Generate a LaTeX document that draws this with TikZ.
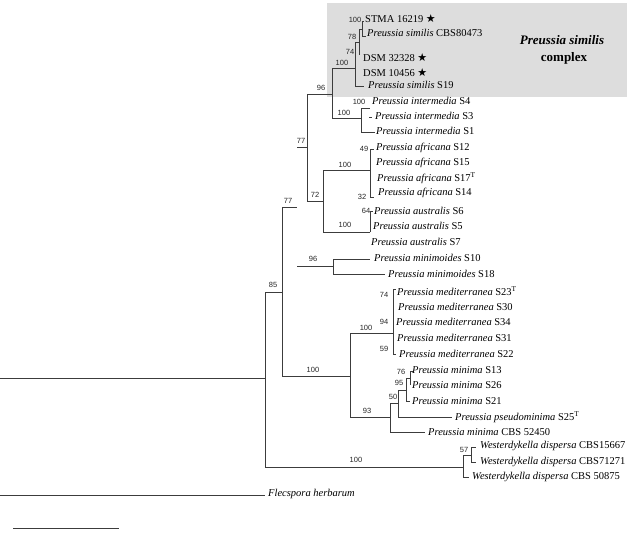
\documentclass[tikz,border=0pt]{standalone}
\usepackage{fontspec}
\setmainfont{Liberation Serif}
\newfontfamily\supf{Liberation Sans}
\newfontfamily\starf{DejaVu Sans}
\definecolor{boxgrey}{RGB}{221,221,221}
\definecolor{linec}{RGB}{60,60,60}
\newcommand{\stsym}{{\starf\fontsize{11}{11}\selectfont ★}}
\begin{document}
\begin{tikzpicture}[x=1pt,y=-1pt,
  br/.style={draw=linec,line width=0.75pt},
  taxon/.style={anchor=west,inner sep=0pt,font=\fontsize{10.5}{12}\selectfont},
  sup/.style={inner sep=0pt,font=\supf\fontsize{7.5}{8}\selectfont,text=black!85},
  ttl/.style={inner sep=0pt,font=\fontsize{13}{15}\selectfont\bfseries}]
\useasboundingbox (0,0) rectangle (636,532);
\fill[boxgrey] (327,3) rectangle (627,97);
\node[ttl] (ttl1) at (562,40) {\textit{Preussia similis}};
\node[ttl] (ttl2) at (564,58) {complex};

% coordinates of internal nodes
\coordinate (rootL) at (0,378);
\coordinate (ing) at (265,378);
\coordinate (outL) at (0,495);
\coordinate (outT) at (265,495);
\coordinate (n85) at (282,292);
\coordinate (n77bL) at (283,207);
\coordinate (n77b) at (297,207);
\coordinate (n77aL) at (297,147);
\coordinate (n77a) at (307,147);
\coordinate (n96) at (332,94);
\coordinate (nsimL) at (332,68);
\coordinate (nsim) at (355,68);
\coordinate (n78) at (359,42);
\coordinate (n78b) at (359,55);
\coordinate (n100s) at (362,29);
\coordinate (tSTMA) at (364,21);
\coordinate (tCBS) at (366,36);
\coordinate (tS19) at (364,86);
\coordinate (nint) at (361,118);
\coordinate (tS4) at (370,108);
\coordinate (tS1) at (375,132);
\coordinate (d3a) at (369,117);
\coordinate (d3b) at (372,117);
\coordinate (n72) at (323,201);
\coordinate (naf) at (370,170);
\coordinate (tS12) at (374,149);
\coordinate (tS14) at (374,197);
\coordinate (naus) at (370,232);
\coordinate (tS6) at (373,211);
\coordinate (nminL) at (297,266);
\coordinate (nmin) at (333,266);
\coordinate (tS10) at (370,259);
\coordinate (tS18) at (385,274);
\coordinate (n100b) at (350,376);
\coordinate (nmed) at (393,333);
\coordinate (tS23) at (396,289);
\coordinate (tS22) at (396,354);
\coordinate (n93) at (390,417);
\coordinate (n50) at (398,403);
\coordinate (tCBS52) at (425,432);
\coordinate (n95) at (406,390);
\coordinate (tS25) at (452,417);
\coordinate (n76) at (410,378);
\coordinate (tS21) at (410,401);
\coordinate (tS13) at (413,371);
\coordinate (n76b) at (410,385);
\coordinate (wes) at (463,467);
\coordinate (n57) at (471,455);
\coordinate (tW3) at (469,477);
\coordinate (tW1) at (476,447);
\coordinate (tW2) at (476,462);
\coordinate (sbA) at (13,528);
\coordinate (sbB) at (119,528);

% branches
\draw[br] (rootL) -- (ing);
\draw[br] (outL) -- (outT);
\draw[br] (ing) |- (n85);
\draw[br] (ing) |- (wes);
\draw[br] (n77bL) -- (n77b);
\draw[br] (n85) |- (n100b);
\draw[br] (n85) |- (n77bL);
\draw[br] (n77aL) -- (n77a);
\draw[br] (nminL) -- (nmin);
\draw[br] (n77a) |- (n96);
\draw[br] (n77a) |- (n72);
\draw[br] (n96) |- (nsimL);
\draw[br] (nsimL) -- (nsim);
\draw[br] (n96) |- (nint);
\draw[br] (nsim) |- (n78);
\draw[br] (nsim) |- (tS19);
\draw[br] (n78) |- (n100s);
\draw[br] (n78) -- (n78b);
\draw[br] (n100s) |- (tSTMA);
\draw[br] (n100s) |- (tCBS);
\draw[br] (nint) |- (tS4);
\draw[br] (nint) |- (tS1);
\draw[br] (d3a) -- (d3b);
\draw[br] (n72) |- (naf);
\draw[br] (n72) |- (naus);
\draw[br] (naf) |- (tS12);
\draw[br] (naf) |- (tS14);
\draw[br] (naus) |- (tS6);
\draw[br] (nmin) |- (tS10);
\draw[br] (nmin) |- (tS18);
\draw[br] (n100b) |- (nmed);
\draw[br] (n100b) |- (n93);
\draw[br] (nmed) |- (tS23);
\draw[br] (nmed) |- (tS22);
\draw[br] (n93) |- (n50);
\draw[br] (n93) |- (tCBS52);
\draw[br] (n50) |- (n95);
\draw[br] (n50) |- (tS25);
\draw[br] (n95) |- (n76);
\draw[br] (n95) |- (tS21);
\draw[br] (n76) |- (tS13);
\draw[br] (n76) -- (n76b);
\draw[br] (wes) |- (n57);
\draw[br] (wes) |- (tW3);
\draw[br] (n57) |- (tW1);
\draw[br] (n57) |- (tW2);
\draw[br] (sbA) -- (sbB);

% taxa
\node[taxon] (xSTMA) at (365,19) {STMA 16219 \stsym};
\node[taxon] (xCBS) at (367,33) {\textit{Preussia similis} CBS80473};
\node[taxon] (xD1) at (363,58) {DSM 32328 \stsym};
\node[taxon] (xD2) at (363,73) {DSM 10456 \stsym};
\node[taxon] (xS19) at (368,85) {\textit{Preussia similis} S19};
\node[taxon] (xS4) at (372,101) {\textit{Preussia intermedia} S4};
\node[taxon] (xS3) at (375,116) {\textit{Preussia intermedia} S3};
\node[taxon] (xS1) at (376,131) {\textit{Preussia intermedia} S1};
\node[taxon] (xS12) at (376,148) {\textit{Preussia africana} S12};
\node[taxon] (xS15) at (376,163) {\textit{Preussia africana} S15};
\node[taxon] (xS17) at (377,178) {\textit{Preussia africana} S17\textsuperscript{T}};
\node[taxon] (xS14) at (378,193) {\textit{Preussia africana} S14};
\node[taxon] (xS6) at (374,211) {\textit{Preussia australis} S6};
\node[taxon] (xS5) at (373,226) {\textit{Preussia australis} S5};
\node[taxon] (xS7) at (371,242) {\textit{Preussia australis} S7};
\node[taxon] (xS10) at (374,258) {\textit{Preussia minimoides} S10};
\node[taxon] (xS18) at (388,274) {\textit{Preussia minimoides} S18};
\node[taxon] (xS23) at (397,291) {\textit{Preussia mediterranea} S23\textsuperscript{T}};
\node[taxon] (xS30) at (398,307) {\textit{Preussia mediterranea} S30};
\node[taxon] (xS34) at (396,322) {\textit{Preussia mediterranea} S34};
\node[taxon] (xS31) at (397,338) {\textit{Preussia mediterranea} S31};
\node[taxon] (xS22) at (399,354) {\textit{Preussia mediterranea} S22};
\node[taxon] (xS13) at (412,370) {\textit{Preussia minima} S13};
\node[taxon] (xS26) at (412,385) {\textit{Preussia minima} S26};
\node[taxon] (xS21) at (412,401) {\textit{Preussia minima} S21};
\node[taxon] (xS25) at (455,417) {\textit{Preussia pseudominima} S25\textsuperscript{T}};
\node[taxon] (xC52) at (428,432) {\textit{Preussia minima} CBS 52450};
\node[taxon] (xW1) at (480,446) {\textit{Westerdykella dispersa} CBS15667};
\node[taxon] (xW2) at (480,462) {\textit{Westerdykella dispersa} CBS71271};
\node[taxon] (xW3) at (472,477) {\textit{Westerdykella dispersa} CBS 50875};
\node[taxon] (xFl) at (268,494) {\textit{Flecspora herbarum}};

% support values
\node[sup] (s1) at (355,20) {100};
\node[sup] (s2) at (352,37) {78};
\node[sup] (s3) at (350,52) {74};
\node[sup] (s4) at (342,63) {100};
\node[sup] (s5) at (321,88) {96};
\node[sup] (s6) at (359,102) {100};
\node[sup] (s7) at (344,113) {100};
\node[sup] (s8) at (301,141) {77};
\node[sup] (s9) at (364,149) {49};
\node[sup] (s10) at (345,165) {100};
\node[sup] (s11) at (362,197) {32};
\node[sup] (s12) at (315,195) {72};
\node[sup] (s13) at (288,201) {77};
\node[sup] (s14) at (366,211) {64};
\node[sup] (s15) at (345,225) {100};
\node[sup] (s16) at (313,259) {96};
\node[sup] (s17) at (273,285) {85};
\node[sup] (s18) at (384,295) {74};
\node[sup] (s19) at (366,328) {100};
\node[sup] (s20) at (384,322) {94};
\node[sup] (s21) at (384,349) {59};
\node[sup] (s22) at (313,370) {100};
\node[sup] (s23) at (401,372) {76};
\node[sup] (s24) at (399,383) {95};
\node[sup] (s25) at (393,397) {50};
\node[sup] (s26) at (367,411) {93};
\node[sup] (s27) at (464,450) {57};
\node[sup] (s28) at (356,460) {100};
\end{tikzpicture}
\end{document}
